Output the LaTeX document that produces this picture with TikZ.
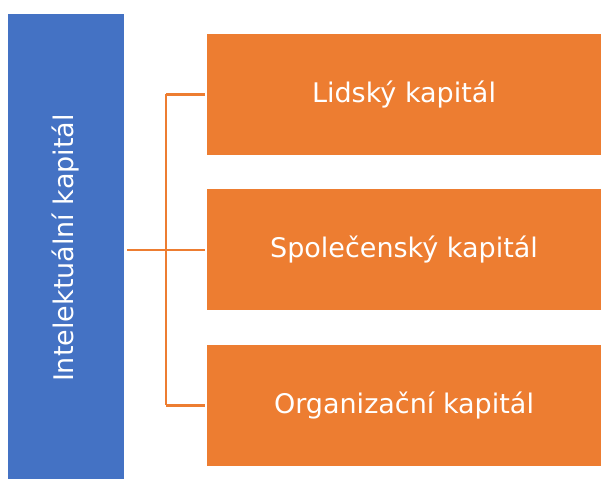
\documentclass[tikz,border=0pt]{standalone}
\usepackage{fontspec}
\setsansfont{DejaVu Sans}
\usetikzlibrary{positioning}

\definecolor{capblue}{HTML}{4472C4}
\definecolor{caporange}{HTML}{ED7D31}

\begin{document}
\begin{tikzpicture}[
  x=1pt,y=1pt,
  font=\sffamily\fontsize{27}{32}\selectfont,
  whole/.style={fill=capblue,text=white,inner sep=0pt,
                minimum width=116pt,minimum height=465pt},
  part/.style={fill=caporange,text=white,inner sep=0pt,
               minimum width=394pt,minimum height=121pt},
  link/.style={draw=caporange,line width=2.5pt},
]
\useasboundingbox (0,0) rectangle (601,479);

% ---- left: the whole, one tall box with rotated title ----
\node[whole] (ik) at (66,232.5) {};
\node[rotate=90,text=white] (iktext) at (66,231) {Intelektuální kapitál};

% ---- right: its three parts, stacked ----
\node[part] (lk) at (404,384.5) {Lidský kapitál};
\node[part,below=34pt of lk] (sk) {Společenský kapitál};
\node[part,below=34pt of sk] (ok) {Organizační kapitál};

% bracket joining the whole to its parts
\coordinate (fork) at (166,0);
\draw[link,shorten <=3pt] (ik.east |- sk.west) -- (sk.west -| fork);
\draw[link,shorten >=2pt] (lk.west -| fork) -- (lk.west);
\draw[link,shorten >=2pt] (sk.west -| fork) -- (sk.west);
\draw[link,shorten >=2pt] (ok.west -| fork) -- (ok.west);
\draw[link] (lk.west -| fork) -- (ok.west -| fork);

\end{tikzpicture}
\end{document}
